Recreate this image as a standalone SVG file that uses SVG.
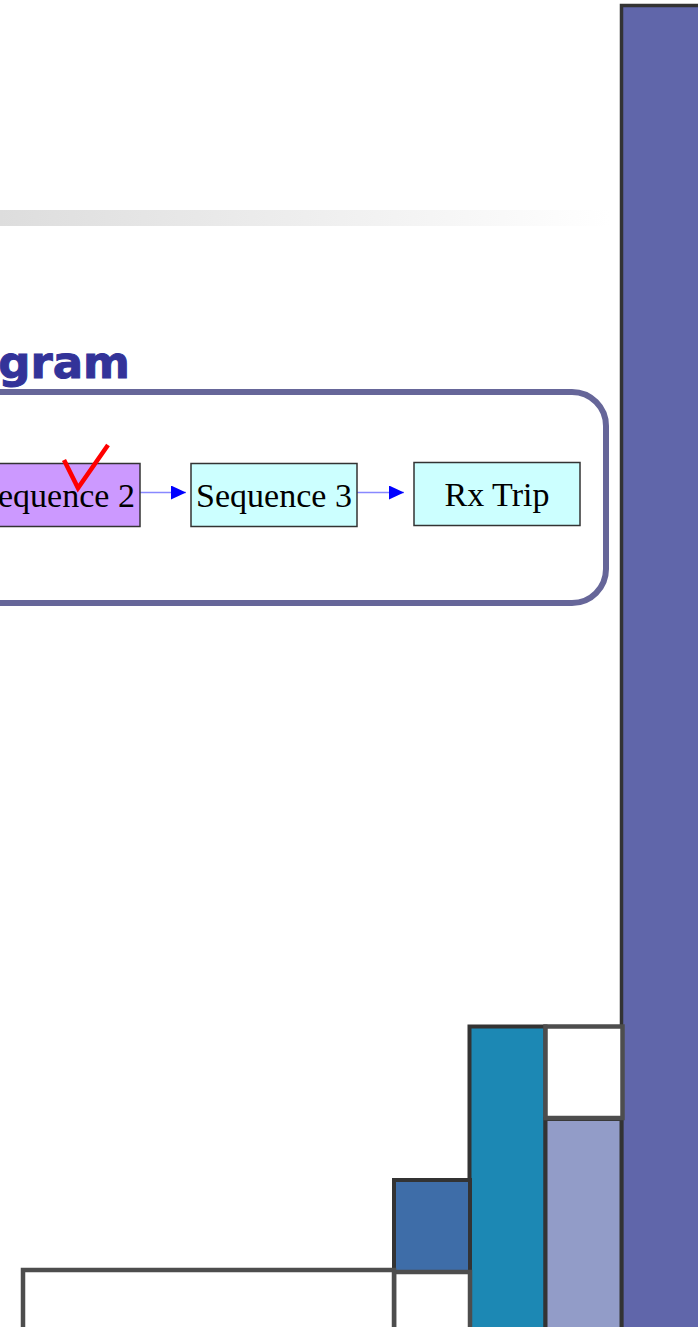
<svg xmlns="http://www.w3.org/2000/svg" width="698" height="1327" viewBox="0 0 698 1327">
  <style>
    .title { font-family: "DejaVu Sans", Verdana, sans-serif; font-weight: bold; fill: #333399; stroke: #333399; stroke-width: 1; }
    .box { stroke: #333333; stroke-width: 1.5; }
    .lbl { font-family: "Liberation Serif", "Times New Roman", serif; font-size: 34px; fill: #000000; text-anchor: middle; }
    .link { stroke: #8888ff; stroke-width: 1.5; fill: none; }
    .block { stroke: #333333; stroke-width: 4; }
    .hollow { fill: #ffffff; stroke: #4d4d4d; stroke-width: 4.5; }
  </style>
  <defs>
    <linearGradient id="rule" x1="0" y1="0" x2="1" y2="0">
      <stop offset="0" stop-color="#dddddd"/>
      <stop offset="1" stop-color="#ffffff"/>
    </linearGradient>
    <marker id="head" viewBox="0 0 15 14" refX="15" refY="7" markerWidth="15" markerHeight="14" markerUnits="userSpaceOnUse" orient="auto">
      <path d="M0,0 L15,7 L0,14 Z" fill="#0000ff"/>
    </marker>
  </defs>

  <rect width="698" height="1327" fill="#ffffff"/>

  <!-- header rule -->
  <rect x="0" y="210" width="610" height="16" fill="url(#rule)"/>

  <!-- title -->
  <text class="title" x="130" y="378" font-size="45" text-anchor="end">gram</text>

  <!-- frame around the flow -->
  <rect x="-60" y="392" width="666" height="211" rx="34" ry="34" fill="none" stroke="#666699" stroke-width="6"/>

  <!-- right side band -->
  <rect x="621.5" y="5.5" width="80" height="1330" fill="#6066aa" stroke="#333333" stroke-width="3.5"/>

  <!-- connectors -->
  <g id="connectors">
    <line class="link" x1="140" y1="492.5" x2="186" y2="492.5" marker-end="url(#head)"/>
    <line class="link" x1="357" y1="492.5" x2="404" y2="492.5" marker-end="url(#head)"/>
  </g>

  <!-- nodes -->
  <g id="seq2">
    <rect class="box" x="-26" y="463.5" width="166" height="63" fill="#cc99ff"/>
    <text class="lbl" x="57" y="507">Sequence 2</text>
  </g>
  <g id="seq3">
    <rect class="box" x="191" y="463.5" width="166" height="63" fill="#ccffff"/>
    <text class="lbl" x="274" y="507">Sequence 3</text>
  </g>
  <g id="rxtrip">
    <rect class="box" x="414" y="462.5" width="166" height="63" fill="#ccffff"/>
    <text class="lbl" x="497" y="506">Rx Trip</text>
  </g>

  <!-- check mark -->
  <polyline points="64,460 78,488 108,445" fill="none" stroke="#ff0000" stroke-width="4.5" stroke-linejoin="miter"/>

  <!-- corner blocks -->
  <g id="blocks">
    <rect class="block" x="469.5" y="1026.5" width="76" height="310" fill="#1c88b4"/>
    <rect class="block" x="545.5" y="1119" width="76" height="220" fill="#929cc8"/>
    <rect class="hollow" x="545.5" y="1026.5" width="77" height="91.5"/>
    <rect class="block" x="394" y="1180" width="76" height="92" fill="#3e6da8"/>
    <rect class="hollow" x="394" y="1272" width="76" height="70"/>
    <rect class="hollow" x="23" y="1270" width="371" height="70"/>
  </g>
</svg>
